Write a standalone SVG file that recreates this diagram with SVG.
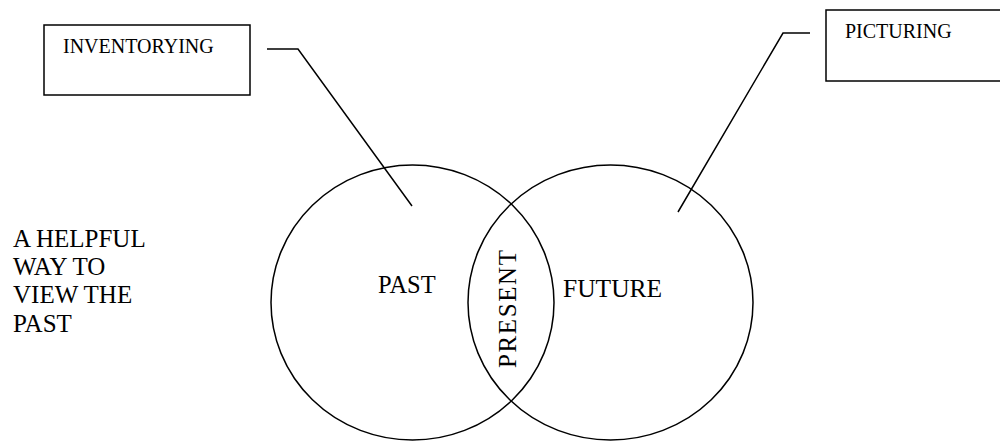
<svg xmlns="http://www.w3.org/2000/svg" width="1000" height="441" viewBox="0 0 1000 441">
<style>
.s{fill:none;stroke:#000;stroke-width:1.5}
.t{font-family:"Liberation Serif","Times New Roman",serif;fill:#000}
</style>
<rect width="1000" height="441" fill="#fff"/>
<g id="connectors">
<polyline class="s" points="267,49 298,49 412,206"/>
<polyline class="s" points="810,33 783,33 678,212"/>
</g>
<g id="inventorying">
<rect class="s" x="44" y="25" width="206" height="70"/>
<text class="t" x="63" y="53" font-size="20">INVENTORYING</text>
</g>
<g id="picturing">
<rect class="s" x="826" y="10" width="190" height="71"/>
<text class="t" x="845" y="38" font-size="20">PICTURING</text>
</g>
<g id="past">
<ellipse class="s" cx="412.5" cy="302.5" rx="141.5" ry="137.5"/>
<text class="t" x="378" y="293" font-size="24.5">PAST</text>
</g>
<g id="future">
<ellipse class="s" cx="610.5" cy="302.5" rx="142.5" ry="137.5"/>
<text class="t" x="563" y="297" font-size="25.5">FUTURE</text>
</g>
<g id="present">
<text class="t" transform="translate(516,368) rotate(-90)" font-size="25" textLength="118" lengthAdjust="spacing">PRESENT</text>
</g>
<g id="caption" font-family="Liberation Serif, Times New Roman, serif">
<text class="t" x="13" y="247" font-size="25">A HELPFUL</text>
<text class="t" x="13" y="275" font-size="25">WAY TO</text>
<text class="t" x="13" y="303" font-size="25">VIEW THE</text>
<text class="t" x="13" y="332" font-size="25">PAST</text>
</g>
</svg>
